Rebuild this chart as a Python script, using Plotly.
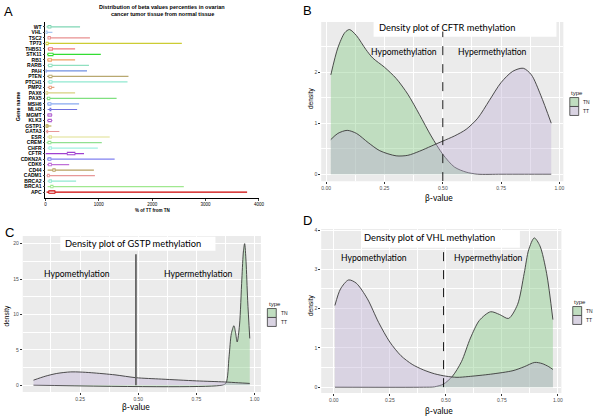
import plotly.graph_objects as go

W, H = 601, 418

# ---- panel A data (top to bottom) ----
genes = ["WT", "VHL", "TSC2", "TP73", "THBS1", "STK11", "RB1", "RARB", "PAH", "PTEN",
         "PTCH1", "PMP2", "PAX6", "PAX5", "MSH6", "MLH3", "MGMT", "KLK3", "GSTP1", "GATA3",
         "ESR", "CREM", "CHFR", "CFTR", "CDKN2A", "CDK6", "CD44", "CADM1", "BRCA2", "BRCA1", "APC"]
pct_max = [648, 130, 833, 2555, 555, 1037, 555, 815, 778, 1555,
           1537, 167, 555, 1333, 630, 593, 130, 130, 111, 260,
           1204, 1055, 981, 722, 1296, 444, 907, 926, 574, 2592, 3778]
pct_min = [20, 0, 40, 0, 40, 30, 30, 40, 0, 30,
           40, 40, 0, 20, 30, 40, 30, 30, 0, 0,
           30, 20, 40, 0, 30, 30, 40, 20, 40, 40, 20]
blob_lo = [40, 0, 40, 0, 50, 40, 40, 50, 0, 55,
           60, 60, 0, 30, 40, 75, 40, 40, 0, 20,
           60, 40, 60, 400, 40, 50, 130, 30, 60, 90, 55]
blob_hi = [110, 40, 100, 60, 140, 150, 120, 130, 20, 130,
           130, 120, 50, 90, 110, 110, 120, 120, 55, 50,
           120, 110, 120, 560, 110, 120, 190, 80, 120, 150, 185]
gene_colors = ["#7fd6b4", "#a8c8f0", "#e89090", "#cccc33", "#f07878", "#33dd33", "#f0a060", "#90e0c0",
               "#7090e0", "#b8a870", "#90e8d0", "#e8a080", "#d8d080", "#80e080", "#88a8f0", "#7070e0",
               "#b060d0", "#b060d0", "#b0a040", "#e89898", "#e0e090", "#90e090", "#a0f0e0", "#a040d0",
               "#8080f0", "#c070d8", "#b8a060", "#e89898", "#90e8d0", "#a0e890", "#cc0000"]
a_ticks = [0, 1000, 2000, 3000, 4000]

# ---- panel B: CFTR ----
b_tn_x = [0.02, 0.05, 0.08, 0.10, 0.13, 0.17, 0.20, 0.25, 0.30, 0.35, 0.40, 0.45, 0.50, 0.55, 0.60, 0.65, 0.75, 0.85, 0.965]
b_tn_y = [1.95, 2.48, 2.78, 2.84, 2.72, 2.45, 2.28, 2.1, 1.88, 1.57, 1.17, 0.75, 0.39, 0.14, 0.04, 0.0, 0.0, 0.0, 0.0]
b_tt_x = [0.02, 0.05, 0.09, 0.13, 0.18, 0.23, 0.30, 0.35, 0.40, 0.45, 0.50, 0.55, 0.60, 0.65, 0.70, 0.75, 0.80, 0.845, 0.88, 0.92, 0.965]
b_tt_y = [0.68, 0.8, 0.86, 0.8, 0.62, 0.46, 0.36, 0.37, 0.45, 0.55, 0.65, 0.75, 0.88, 1.1, 1.45, 1.8, 2.02, 2.08, 1.95, 1.55, 1.0]

# ---- panel C: GSTP ----
c_tn_x = [0.05, 0.86, 0.877, 0.89, 0.90, 0.911, 0.918, 0.925, 0.935, 0.945, 0.952, 0.957, 0.963, 0.97, 0.979]
c_tn_y = [0, 0, 0.3, 4.0, 7.3, 8.4, 7.4, 6.1, 8.5, 15, 19, 20, 17.5, 12, 6.6]
c_tt_x = [0.05, 0.10, 0.15, 0.21, 0.25, 0.30, 0.40, 0.49, 0.60, 0.75, 0.87, 0.93, 0.979]
c_tt_y = [0.7, 1.25, 1.65, 1.87, 1.85, 1.75, 1.45, 1.05, 0.85, 0.6, 0.45, 0.33, 0.24]

# ---- panel D: VHL ----
d_tn_x = [0.005, 0.40, 0.45, 0.49, 0.53, 0.57, 0.61, 0.65, 0.70, 0.74, 0.78, 0.82, 0.85, 0.87, 0.895, 0.92, 0.95, 0.978]
d_tn_y = [0, 0, 0.01, 0.08, 0.28, 0.65, 1.25, 1.7, 1.92, 1.85, 1.75, 2.1, 2.9, 3.5, 3.8, 3.6, 2.9, 1.72]
d_tt_x = [0.005, 0.03, 0.066, 0.10, 0.15, 0.20, 0.25, 0.30, 0.35, 0.40, 0.45, 0.50, 0.55, 0.60, 0.70, 0.80, 0.85, 0.897, 0.93, 0.96, 0.978]
d_tt_y = [2.08, 2.5, 2.73, 2.65, 2.25, 1.65, 1.15, 0.8, 0.58, 0.44, 0.34, 0.28, 0.25, 0.27, 0.33, 0.42, 0.52, 0.63, 0.6, 0.52, 0.45]

TN_FILL = "rgba(127,201,127,0.4)"
TT_FILL = "rgba(190,174,212,0.4)"
OUTLINE = "#3a3a3a"
GRAY = "#ebebeb"
TXT = "Lato"


def fx(p):
    return p / W


def fy(p):
    return 1 - p / H


fig = go.Figure()

# panel A
for i, g in enumerate(genes):
    fig.add_trace(go.Scatter(x=[pct_min[i], pct_max[i]], y=[g, g], mode="lines",
                             line=dict(color=gene_colors[i], width=1.2),
                             xaxis="x", yaxis="y", hoverinfo="skip"))
    fig.add_trace(go.Scatter(x=[blob_lo[i], blob_hi[i]], y=[g, g], mode="lines",
                             line=dict(color=gene_colors[i], width=3.5),
                             xaxis="x", yaxis="y", hoverinfo="skip"))
    fig.add_trace(go.Scatter(x=[blob_lo[i] + 15, blob_hi[i] - 15], y=[g, g], mode="lines",
                             line=dict(color="white", width=1.2),
                             xaxis="x", yaxis="y", hoverinfo="skip"))

# density panels
panels = [("x2", "y2", b_tn_x, b_tn_y, b_tt_x, b_tt_y),
          ("x3", "y3", c_tn_x, c_tn_y, c_tt_x, c_tt_y),
          ("x4", "y4", d_tn_x, d_tn_y, d_tt_x, d_tt_y)]
for xa, ya, tnx, tny, ttx, tty in panels:
    fig.add_trace(go.Scatter(x=tnx, y=tny, mode="lines", fill="tozeroy", fillcolor=TN_FILL,
                             line=dict(color=OUTLINE, width=0.9, shape="spline", smoothing=0.8),
                             xaxis=xa, yaxis=ya, hoverinfo="skip"))
    fig.add_trace(go.Scatter(x=ttx, y=tty, mode="lines", fill="tozeroy", fillcolor=TT_FILL,
                             line=dict(color=OUTLINE, width=0.9, shape="spline", smoothing=0.8),
                             xaxis=xa, yaxis=ya, hoverinfo="skip"))

ax_common = dict(showline=False, zeroline=False, ticks="outside", ticklen=2, tickcolor="#333333",
                 tickwidth=0.6, gridcolor="white", gridwidth=1,
                 tickfont=dict(family="Liberation Sans", size=5, color="#4d4d4d"))

fig.update_layout(
    width=W, height=H, margin=dict(l=0, r=0, t=0, b=0),
    paper_bgcolor="white", plot_bgcolor="white", showlegend=False,
    xaxis=dict(domain=[fx(45), fx(261)], range=[0, 4000], anchor="y", showline=True, linecolor="black",
               linewidth=0.8, showgrid=False, zeroline=False, ticks="outside", ticklen=2, tickwidth=0.6,
               tickvals=a_ticks, tickfont=dict(family="Liberation Sans", size=4.5, color="black")),
    yaxis=dict(domain=[fy(197), fy(20)], range=[-1.08, 30.9], anchor="x", type="category",
               categoryorder="array", categoryarray=genes[::-1], showline=True, linecolor="black",
               linewidth=0.8, showgrid=False, ticks="outside", ticklen=2, tickwidth=0.6,
               tickmode="array", tickvals=genes, ticktext=genes,
               tickfont=dict(family="Liberation Sans", size=5, color="black", weight="bold")),
    xaxis2=dict(domain=[fx(324), fx(569)], range=[-0.0212, 1.017], anchor="y2", dtick=0.25, tick0=0,
                tickformat=".2f", minor=dict(dtick=0.125, showgrid=True, gridcolor="white", gridwidth=0.5),
                **ax_common),
    yaxis2=dict(domain=[fy(180), fy(20)], range=[-0.137, 2.99], anchor="x2", dtick=1, tick0=0,
                minor=dict(dtick=0.5, showgrid=True, gridcolor="white", gridwidth=0.5), **ax_common),
    xaxis3=dict(domain=[fx(22), fx(263)], range=[0.0038, 1.027], anchor="y3", dtick=0.25, tick0=0,
                tickformat=".2f", minor=dict(dtick=0.125, showgrid=True, gridcolor="white", gridwidth=0.5),
                **ax_common),
    yaxis3=dict(domain=[fy(392), fy(235)], range=[-0.99, 21.1], anchor="x3", dtick=5, tick0=0,
                minor=dict(dtick=2.5, showgrid=True, gridcolor="white", gridwidth=0.5), **ax_common),
    xaxis4=dict(domain=[fx(324), fx(567)], range=[-0.056, 1.016], anchor="y4", dtick=0.25, tick0=0,
                tickformat=".2f", minor=dict(dtick=0.125, showgrid=True, gridcolor="white", gridwidth=0.5),
                **ax_common),
    yaxis4=dict(domain=[fy(393), fy(228)], range=[-0.152, 4.03], anchor="x4", dtick=1, tick0=0,
                minor=dict(dtick=0.5, showgrid=True, gridcolor="white", gridwidth=0.5), **ax_common),
)

shapes = []
for n in ["2", "3", "4"]:
    shapes.append(dict(type="rect", xref=f"x{n} domain", yref=f"y{n} domain", x0=0, x1=1, y0=0, y1=1,
                       fillcolor=GRAY, line=dict(width=0), layer="below"))

# title boxes
for x0, x1, y0, y1 in [(377, 562, 18, 35), (60, 217, 236, 250), (365, 525, 230, 247)]:
    shapes.append(dict(type="rect", xref="paper", yref="paper", x0=fx(x0), x1=fx(x1), y0=fy(y1), y1=fy(y0),
                       fillcolor="white", line=dict(width=0)))

# cut-off lines
shapes.append(dict(type="line", xref="x2", yref="y2", x0=0.5, x1=0.5, y0=-0.137, y1=2.8,
                   line=dict(color="black", width=0.9, dash="dash")))
shapes.append(dict(type="line", xref="x3", yref="y3", x0=0.49, x1=0.49, y0=0, y1=18.5,
                   line=dict(color="#666666", width=1.8)))
shapes.append(dict(type="line", xref="x4", yref="y4", x0=0.49, x1=0.49, y0=0, y1=3.55,
                   line=dict(color="black", width=0.9, dash="dash")))

annotations = []


def txt(x, y, s, size, family=TXT, color="black", angle=0, xanchor="center", bold=False):
    annotations.append(dict(x=fx(x), y=fy(y), xref="paper", yref="paper", text=s, showarrow=False,
                            xanchor=xanchor, yanchor="middle", textangle=angle,
                            font=dict(family=family, size=size, color=color,
                                      weight="bold" if bold else "normal")))


# legends
for lx, ly in [(575, 91), (269, 303), (578, 301)]:
    txt(lx, ly, "type", 6, family="Liberation Sans", color="#222222", xanchor="left")
    for k, (lab, col) in enumerate([("TN", TN_FILL), ("TT", TT_FILL)]):
        top = ly + 5 + k * 9
        shapes.append(dict(type="rect", xref="paper", yref="paper", x0=fx(lx + 0.5), x1=fx(lx + 9.5),
                           y0=fy(top + 9), y1=fy(top), fillcolor=GRAY, line=dict(width=0)))
        shapes.append(dict(type="rect", xref="paper", yref="paper", x0=fx(lx + 0.5), x1=fx(lx + 9.5),
                           y0=fy(top + 9), y1=fy(top), fillcolor=col, line=dict(color=OUTLINE, width=0.8)))
        txt(lx + 12, top + 4.5, lab, 5, family="Liberation Sans", color="#222222", xanchor="left")

# panel letters
for lx, ly, s in [(8, 10, "A"), (310, 9, "B"), (9, 232, "C"), (310, 220, "D")]:
    txt(lx, ly, s, 13, family="Liberation Sans")

# panel A texts
txt(163, 9, "Distribution of beta values percenties in ovarian<br> cancer tumor tissue from normal tissue",
    5.5, family="Liberation Sans", bold=True)
txt(153, 209, "% of TT from TN", 4.5, family="Liberation Sans", bold=True)
txt(18, 105, "Gene name", 5.5, family="Liberation Sans", angle=-90, bold=True)

# density panel texts
TS, HS, BS = 9.3, 8.6, 8.5
txt(451, 26, "Density plot of CFTR methylation", TS)
txt(408, 50, "Hypomethylation", HS)
txt(497, 50, "Hypermethylation", HS)
txt(443, 197, "β-value", BS)
txt(313, 97, "density", 6.5, family="Liberation Sans", angle=-90)

txt(134, 243, "Density plot of GSTP methylation", TS)
txt(77, 273, "Hypomethylation", HS)
txt(200, 273, "Hypermethylation", HS)
txt(137, 407, "β-value", BS)
txt(7, 315, "density", 6.5, family="Liberation Sans", angle=-90)

txt(434, 237, "Density plot of VHL methylation", TS)
txt(377, 257, "Hypomethylation", HS)
txt(493, 257, "Hypermethylation", HS)
txt(443, 411, "β-value", BS)
txt(313, 305, "density", 6.5, family="Liberation Sans", angle=-90)

fig.update_layout(shapes=shapes, annotations=annotations)
fig.write_html("out.html", config={"displayModeBar": False},
               post_script="document.body.style.margin='0';")
